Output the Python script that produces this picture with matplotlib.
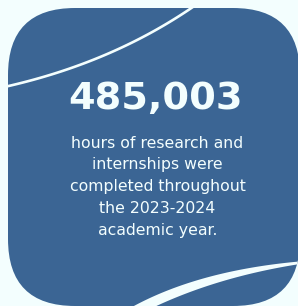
import numpy as np
import matplotlib
matplotlib.use("Agg")
import matplotlib.pyplot as plt
from matplotlib.patches import FancyBboxPatch, Polygon

# content
headline = "485,003"
caption_lines = ["hours of research and", "internships were",
                 "completed throughout", "the 2023-2024", "academic year."]

bg = "#f3fefe"
blue = "#3b6594"
white = "#f3fefe"

W, H = 298, 306
fig = plt.figure(figsize=(W / 100, H / 100), dpi=100, facecolor=bg)
ax = fig.add_axes([0, 0, 1, 1])
ax.set_xlim(0, W)
ax.set_ylim(H, 0)
ax.axis("off")

# rounded card (right edge just past the image edge)
R = 67
x0, x1, y0, y1 = 8, 300, 8, 306
card = FancyBboxPatch((x0 + R, y0 + R), x1 - x0 - 2 * R, y1 - y0 - 2 * R,
                      boxstyle="round,pad=%d" % R, fc=blue, ec="none", zorder=1)
ax.add_patch(card)

def bezier(p0, p1, p2, n=80):
    t = np.linspace(0, 1, n)[:, None]
    return (1 - t) ** 2 * np.array(p0) + 2 * (1 - t) * t * np.array(p1) + t ** 2 * np.array(p2)

# thin top curve
top = bezier((-10, 90), (110, 66), (200, 2))
ln, = ax.plot(top[:, 0], top[:, 1], color=white, lw=1.9, zorder=2, solid_capstyle="butt")
ln.set_clip_path(card)

# tapered bottom band
upper = bezier((125, 311), (195, 270), (305, 261))
lower = bezier((300, 264), (210, 278), (140, 314))
band = Polygon(np.vstack([upper, lower]), closed=True, fc=white, ec="none", zorder=2)
ax.add_patch(band)
band.set_clip_path(card)

ax.text(155.5, 108.5, headline, ha="center", va="baseline", color=white,
        fontsize=27.5, fontweight="bold", family="DejaVu Sans", zorder=3)

base, dy = 147.8, 21.7
for i, line in enumerate(caption_lines):
    ax.text(157.5, base + i * dy, line, ha="center", va="baseline", color=white,
            fontsize=11.3, family="DejaVu Sans", zorder=3)

fig.savefig("out.png", dpi=100, facecolor=bg)
